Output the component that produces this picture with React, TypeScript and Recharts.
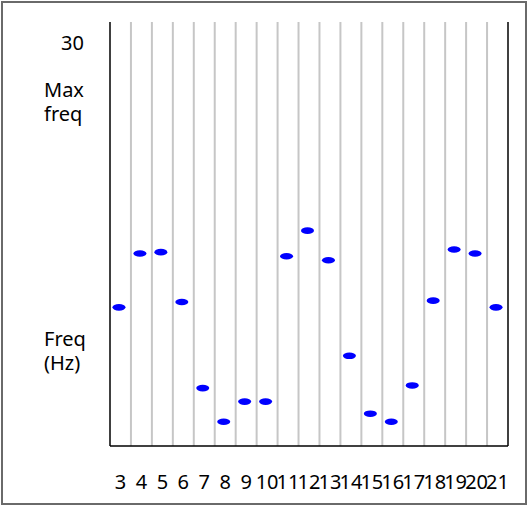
import { ScatterChart, Scatter, XAxis, YAxis, ReferenceLine } from "recharts";

// Frequency by step, one reading per column
const steps = [3, 4, 5, 6, 7, 8, 9, 10, 11, 12, 13, 14, 15, 16, 17, 18, 19, 20, 21];
const freqs = [10.3, 14.3, 14.4, 10.7, 4.3, 1.8, 3.3, 3.3, 14.1, 16.0, 13.8, 6.7, 2.4, 1.8, 4.5, 10.8, 14.6, 14.3, 10.3];
const yTicks = [30, 25.5, 7];
const yTickLines: Record<number, string[]> = {
  30: ["30"],
  25.5: ["Max", "freq"],
  7: ["Freq", "(Hz)"],
};

const data = steps.map((s, i) => ({ step: s, freq: freqs[i] }));
const dividers = steps.slice(0, -1).map((s) => s + 0.5);

const FONT = "'Noto Sans', sans-serif";

const Dash = (props: any) => {
  const { cx, cy } = props;
  return <ellipse cx={cx - 1.5} cy={cy} rx={6.5} ry={3.3} fill="#0000ff" />;
};

const XTick = (props: any) => {
  const { x, y, payload } = props;
  return (
    <text x={x} y={y} dy={35} textAnchor="middle" fontSize={20} fontFamily={FONT} fill="#000">
      {payload.value}
    </text>
  );
};

const YTick = (props: any) => {
  const { y, payload } = props;
  const lines = yTickLines[payload.value] || [String(payload.value)];
  if (lines.length === 1) {
    return (
      <text x={84} y={y} dy={8} textAnchor="end" fontSize={20} fontFamily={FONT} fill="#000">
        {lines[0]}
      </text>
    );
  }
  return (
    <text x={44} y={y} textAnchor="start" fontSize={20} fontFamily={FONT} fill="#000">
      <tspan x={44} dy={-6}>{lines[0]}</tspan>
      <tspan x={44} dy={24.5}>{lines[1]}</tspan>
    </text>
  );
};

export default function App() {
  return (
    <div style={{ position: "absolute", left: 0, top: 0, width: 528, height: 506, background: "#fff" }}>
      <div
        style={{
          position: "absolute",
          left: 1,
          top: 1,
          width: 526,
          height: 504,
          boxSizing: "border-box",
          border: "2px solid #6a6a6a",
        }}
      />
      <div style={{ position: "absolute", left: 0, top: 0 }}>
        <ScatterChart width={528} height={506} margin={{ top: 22, right: 20, bottom: 0, left: 30 }}>
          <XAxis
            type="number"
            dataKey="step"
            domain={[2.5, 21.5]}
            ticks={steps}
            interval={0}
            tickLine={false}
            axisLine={{ stroke: "#000", strokeWidth: 1.5 }}
            tick={<XTick />}
            height={60}
          />
          <YAxis
            type="number"
            dataKey="freq"
            domain={[0, 31.5]}
            ticks={yTicks}
            interval={0}
            tickLine={false}
            axisLine={{ stroke: "#000", strokeWidth: 1.5 }}
            tick={<YTick />}
            width={80}
          />
          {dividers.map((d) => (
            <ReferenceLine key={d} x={d} stroke="#c6c6c6" strokeWidth={2} />
          ))}
          <ReferenceLine x={21.5} stroke="#000" strokeWidth={1.5} />
          <Scatter data={data} shape={<Dash />} isAnimationActive={false} />
        </ScatterChart>
      </div>
    </div>
  );
}
